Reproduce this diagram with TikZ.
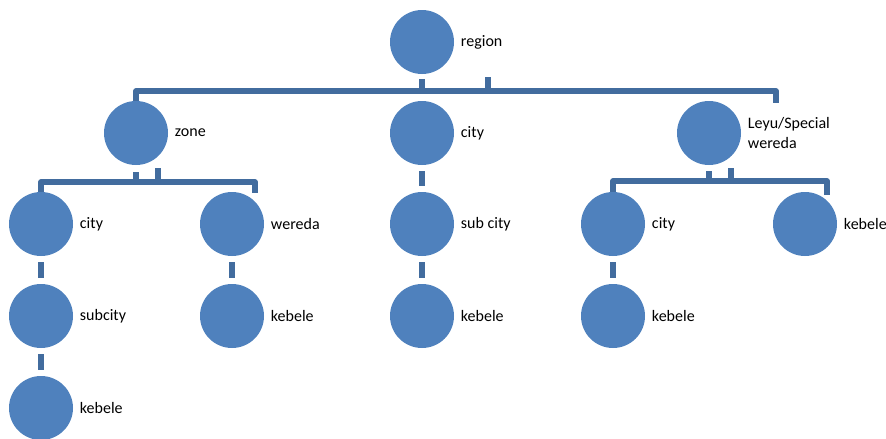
\documentclass[tikz,border=0pt]{standalone}
\usepackage{fontspec}
\setmainfont{Carlito}
\usetikzlibrary{calc}
\definecolor{nodeblue}{HTML}{4F81BD}
\definecolor{lineblue}{HTML}{426C9E}

\begin{document}
\begin{tikzpicture}[
	x=0.75pt, y=-0.75pt,
	every node/.style={font=\fontsize{12}{14.5}\selectfont},
	unit/.style={shape=circle, fill=nodeblue, draw=none, minimum size=48pt, inner sep=0pt},
	link/.style={draw=lineblue, line width=4pt, line join=round},
	stub/.style={link, shorten <=4.5pt, shorten >=4.5pt},
]
\useasboundingbox (0,0) rectangle (886,439);

% units
\node[unit, label={[label distance=1.5pt]right:region}] (region) at (422,42) {};
\node[unit, label={[label distance=1.5pt]right:zone}] (zone) at (136,133) {};
\node[unit, label={[label distance=1.5pt]right:city}] (city) at (422,133) {};
\node[unit, label={[label distance=1.5pt, align=left]right:{Leyu/Special\\wereda}}] (leyu) at (709,133) {};

\node[unit, label={[label distance=1.5pt]right:city}] (zcity) at (41,224) {};
\node[unit, label={[label distance=1.5pt]right:subcity}] (zsubcity) at (41,316) {};
\node[unit, label={[label distance=1.5pt]right:kebele}] (zkebele) at (41,408) {};
\node[unit, label={[label distance=1.5pt]right:wereda}] (wereda) at (232,224) {};
\node[unit, label={[label distance=1.5pt]right:kebele}] (wkebele) at (232,316) {};

\node[unit, label={[label distance=1.5pt]right:sub city}] (subcity) at (422,224) {};
\node[unit, label={[label distance=1.5pt]right:kebele}] (ckebele) at (422,316) {};

\node[unit, label={[label distance=1.5pt]right:city}] (lcity) at (613,224) {};
\node[unit, label={[label distance=1.5pt]right:kebele}] (lckebele) at (613,316) {};
\node[unit, label={[label distance=1.5pt]right:kebele}] (lkebele) at (805,224) {};

% region bracket
\coordinate (topR) at (776,91);
\coordinate (topS) at (488,77);
\draw[link] (zone.north) -- (zone.north |- topR) -- (topR) -- ++(0,12);
\draw[link] ($(region.south)+(0,5)$) -- (region.south |- topR);
\draw[link] (topS) -- (topS |- topR);

% zone bracket
\coordinate (zoneR) at (255,182);
\coordinate (zoneS) at (158,168);
\draw[link] (zcity.north) -- (zcity.north |- zoneR) -- (zoneR) -- ++(0,11);
\draw[link] ($(zone.south)+(0,7)$) -- (zone.south |- zoneR);
\draw[link] (zoneS) -- (zoneS |- zoneR);

% leyu bracket
\coordinate (leyuR) at (827,181);
\coordinate (leyuS) at (731,168);
\draw[link] (lcity.north) -- (lcity.north |- leyuR) -- (leyuR) -- ++(0,14);
\draw[link] ($(leyu.south)+(0,6)$) -- (leyu.south |- leyuR);
\draw[link] (leyuS) -- (leyuS |- leyuR);

% chains
\draw[stub] (zcity) -- (zsubcity);
\draw[stub] (zsubcity) -- (zkebele);
\draw[stub] (wereda) -- (wkebele);
\draw[stub] (city) -- (subcity);
\draw[stub] (subcity) -- (ckebele);
\draw[stub] (lcity) -- (lckebele);
\end{tikzpicture}
\end{document}
